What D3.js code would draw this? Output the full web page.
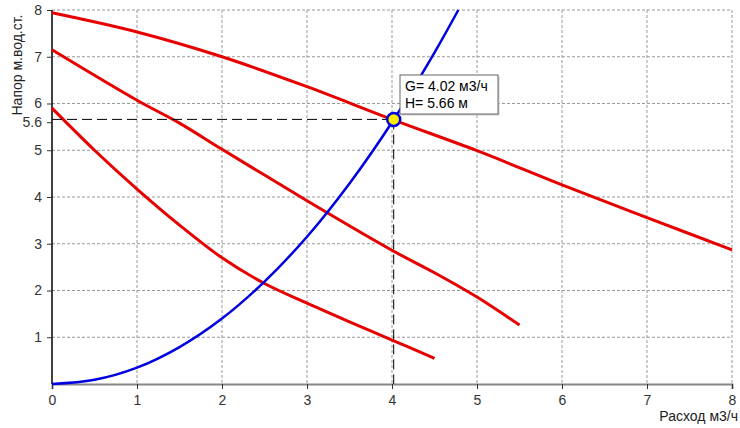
<!DOCTYPE html>
<html>
<head>
<meta charset="utf-8">
<script src="https://cdn.jsdelivr.net/npm/d3@7"></script>
<style>
  body { margin: 0; background: #fff; }
  text { font-family: "Liberation Sans", Arial, sans-serif; }
</style>
</head>
<body>
<svg id="chart" width="740" height="428"></svg>
<script>
// pump curves (flow m3/h, head m)
const pumpHigh = [[0, 7.94], [1, 7.53], [2, 7.0], [3, 6.36], [4, 5.66], [5, 4.99], [6, 4.26], [7, 3.56], [8, 2.87]];
const pumpMid = [[0, 7.15], [1, 6.07], [1.5, 5.58], [2, 5.02], [2.5, 4.47], [3, 3.92], [4, 2.86], [4.5, 2.38], [5, 1.86], [5.5, 1.26]];
const pumpLow = [[0, 5.9], [0.5, 5.0], [1, 4.17], [1.5, 3.4], [2, 2.7], [2.5, 2.15], [3, 1.73], [3.5, 1.33], [4, 0.94], [4.5, 0.55]];
// system curve
const system = [[0, 0], [0.5, 0.09], [1, 0.35], [1.5, 0.79], [2, 1.4], [2.5, 2.19], [3, 3.15], [3.5, 4.29], [4, 5.6], [4.5, 7.09], [4.78, 8]];
const opPoint = { G: 4.02, H: 5.66 };
const xTicks = [0, 1, 2, 3, 4, 5, 6, 7, 8];
const yTicks = [1, 2, 3, 4, 5, 6, 7, 8];

const svg = d3.select("#chart");
const m = { left: 52, right: 732, top: 10, bottom: 384 };

const x = d3.scaleLinear().domain([0, 8]).range([m.left, m.right]);
const y = d3.scaleLinear().domain([0, 8]).range([m.bottom, m.top]);

// grid
svg.append("g").selectAll("line").data(xTicks.filter(d => d > 0)).enter().append("line")
  .attr("x1", d => x(d)).attr("x2", d => x(d)).attr("y1", m.top).attr("y2", m.bottom)
  .attr("stroke", "#999").attr("stroke-dasharray", "3,2").attr("stroke-width", 1);
svg.append("g").selectAll("line").data(yTicks).enter().append("line")
  .attr("x1", m.left).attr("x2", m.right).attr("y1", d => y(d)).attr("y2", d => y(d))
  .attr("stroke", "#999").attr("stroke-dasharray", "3,2").attr("stroke-width", 1);

// axes
const xAxis = svg.append("g")
  .attr("transform", `translate(0, ${m.bottom})`)
  .call(d3.axisBottom(x).tickValues(xTicks).tickSize(5).tickPadding(6));
xAxis.select(".domain").attr("stroke", "#888").attr("stroke-width", 2);
xAxis.selectAll(".tick line").attr("stroke", "#333");
xAxis.selectAll("text").attr("font-size", 14).attr("fill", "#333")
  .attr("font-family", "'Liberation Sans', Arial, sans-serif");

const yAxis = svg.append("g")
  .attr("transform", `translate(${m.left}, 0)`)
  .call(d3.axisLeft(y).tickValues(yTicks.concat([5.6])).tickSize(5).tickPadding(5).tickSizeOuter(0)
    .tickFormat(d => d === 5.6 ? "5.6" : d));
yAxis.select(".domain").attr("stroke", "#000").attr("stroke-width", 1.5)
  .attr("d", `M0,${m.bottom}V${m.top}`);
yAxis.selectAll(".tick line").attr("stroke", "#333");
yAxis.selectAll("text").attr("font-size", 14).attr("fill", "#333")
  .attr("font-family", "'Liberation Sans', Arial, sans-serif");

// curves
const line = d3.line().x(d => x(d[0])).y(d => y(d[1])).curve(d3.curveCatmullRom);
[pumpHigh, pumpMid, pumpLow].forEach(s => {
  svg.append("path").datum(s).attr("d", line)
    .attr("fill", "none").attr("stroke", "#e60000").attr("stroke-width", 3);
});
svg.append("path").datum(system).attr("d", line)
  .attr("fill", "none").attr("stroke", "#0000e0").attr("stroke-width", 2.5);

// operating point guides
svg.append("line")
  .attr("x1", m.left).attr("x2", x(opPoint.G)).attr("y1", y(opPoint.H)).attr("y2", y(opPoint.H))
  .attr("stroke", "#000").attr("stroke-dasharray", "10,5").attr("stroke-width", 1);
svg.append("line")
  .attr("x1", x(opPoint.G)).attr("x2", x(opPoint.G)).attr("y1", y(opPoint.H)).attr("y2", m.bottom)
  .attr("stroke", "#000").attr("stroke-dasharray", "10,5").attr("stroke-width", 1);

svg.append("circle")
  .attr("cx", x(opPoint.G)).attr("cy", y(opPoint.H)).attr("r", 6.5)
  .attr("fill", "#ffee00").attr("stroke", "#0000e0").attr("stroke-width", 2.5);

// label box
const box = svg.append("g").attr("transform", "translate(400, 75)");
box.append("rect").attr("x", 1.5).attr("y", 1.5).attr("width", 98).attr("height", 39).attr("fill", "#ccc");
box.append("rect").attr("width", 98).attr("height", 39).attr("fill", "#fff").attr("stroke", "#666").attr("stroke-width", 1);
box.append("text").attr("x", 5).attr("y", 16).attr("font-size", 14).attr("fill", "#000").text(`G= ${opPoint.G} м3/ч`);
box.append("text").attr("x", 5).attr("y", 33).attr("font-size", 14).attr("fill", "#000").text(`H= ${opPoint.H} м`);

// axis titles
svg.append("text").attr("transform", "translate(22, 65) rotate(-90)")
  .attr("text-anchor", "middle").attr("font-size", 14).attr("fill", "#222").text("Напор м.вод.ст.");
svg.append("text").attr("x", 738).attr("y", 421)
  .attr("text-anchor", "end").attr("font-size", 14).attr("fill", "#222").text("Расход м3/ч");
</script>
</body>
</html>
